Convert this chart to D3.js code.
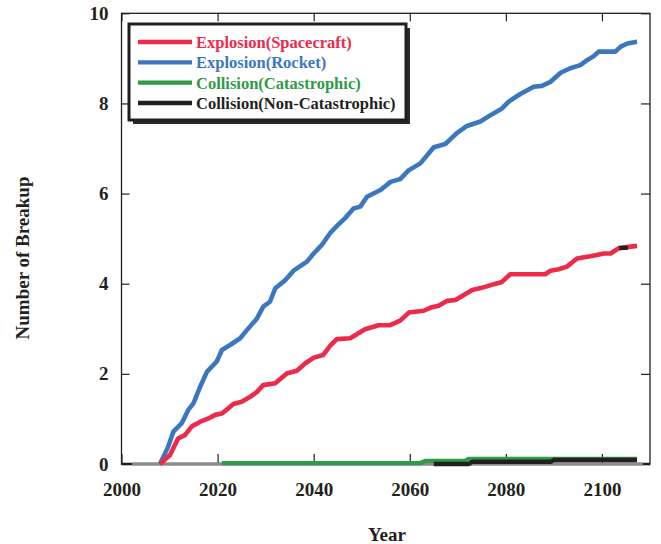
<!DOCTYPE html>
<html>
<head>
<meta charset="utf-8">
<script src="https://cdn.jsdelivr.net/npm/d3@7"></script>
<style>
  html, body { margin: 0; padding: 0; background: #fff; }
  svg text { font-family: "Liberation Serif", "Times New Roman", serif; font-weight: bold; }
</style>
</head>
<body>
<svg id="chart" width="661" height="544"></svg>
<script>
// Cumulative number of breakups per year, by breakup type
const rocketYears = [2008.0, 2009.7, 2010.8, 2012.5, 2013.9, 2015.0, 2016.4, 2017.8, 2019.8, 2020.9,
  2022.6, 2024.7, 2026.1, 2028.2, 2029.5, 2030.9, 2032.0, 2034.1, 2035.8, 2038.6, 2040.0, 2041.7,
  2043.4, 2045.0, 2046.5, 2048.3, 2049.7, 2051.1, 2053.9, 2056.0, 2058.0, 2059.8, 2062.2, 2065.0,
  2067.4, 2069.8, 2071.9, 2074.7, 2076.8, 2079.2, 2080.6, 2083.0, 2085.8, 2087.5, 2089.3, 2091.4,
  2093.4, 2095.5, 2096.9, 2098.3, 2099.3, 2102.8, 2103.9, 2105.3, 2107.3];
const rocketValues = [0, 0.38, 0.72, 0.90, 1.20, 1.35, 1.72, 2.05, 2.27, 2.53,
  2.64, 2.79, 2.97, 3.23, 3.49, 3.60, 3.90, 4.08, 4.29, 4.49, 4.67, 4.86,
  5.12, 5.30, 5.45, 5.67, 5.71, 5.93, 6.08, 6.26, 6.32, 6.52, 6.67, 7.03,
  7.10, 7.34, 7.50, 7.60, 7.74, 7.89, 8.04, 8.21, 8.37, 8.39, 8.48, 8.68,
  8.78, 8.85, 8.96, 9.05, 9.15, 9.15, 9.26, 9.33, 9.37];

const spacecraftYears = [2008.0, 2010.1, 2011.8, 2013.2, 2014.6, 2016.4, 2018.1, 2019.5, 2020.9, 2022.3,
  2023.3, 2025.0, 2026.8, 2028.2, 2029.5, 2032.0, 2034.4, 2036.5, 2038.2, 2040.0, 2042.0, 2043.4,
  2044.8, 2047.6, 2050.7, 2053.5, 2055.9, 2058.0, 2059.8, 2062.9, 2064.6, 2066.0, 2067.8, 2069.5,
  2073.0, 2075.7, 2077.5, 2079.2, 2080.9, 2088.2, 2089.3, 2091.0, 2092.7, 2094.8, 2097.6, 2100.4,
  2101.8, 2103.5, 2107.3];
const spacecraftValues = [0, 0.20, 0.57, 0.64, 0.83, 0.94, 1.01, 1.09, 1.12, 1.24,
  1.33, 1.38, 1.49, 1.60, 1.75, 1.79, 2.01, 2.07, 2.23, 2.36, 2.42, 2.62,
  2.77, 2.79, 2.99, 3.08, 3.08, 3.18, 3.36, 3.40, 3.48, 3.51, 3.62, 3.64,
  3.86, 3.93, 3.99, 4.04, 4.21, 4.21, 4.29, 4.32, 4.38, 4.56, 4.61, 4.67,
  4.67, 4.79, 4.84];

const catastrophicYears = [2020.9, 2062.2, 2063.3, 2071.5, 2072.2, 2107.3];
const catastrophicValues = [0.02, 0.02, 0.07, 0.07, 0.11, 0.11];

const nonCatastrophicYears = [2065.0, 2072.3, 2073.0, 2089.3, 2090.0, 2107.3];
const nonCatastrophicValues = [0.0, 0.0, 0.05, 0.05, 0.09, 0.09];

// short dark stroke sitting on the spacecraft curve near its end
const overlayYears = [2103.6, 2105.4];
const overlayValues = [4.79, 4.80];

// zero reference line
const baselineYears = [2002.2, 2108.5];
const baselineValues = [0, 0];

const xTicks = [2000, 2020, 2040, 2060, 2080, 2100];
const yTicks = [0, 2, 4, 6, 8, 10];

const seriesNames = ["Explosion(Spacecraft)", "Explosion(Rocket)", "Collision(Catastrophic)", "Collision(Non-Catastrophic)"];
const seriesColors = ["#ec2a4a", "#3b77bf", "#2f9b46", "#231f20"];

const svg = d3.select("#chart");
const plotLeft = 121.5, plotRight = 650, plotTop = 13.3, plotBottom = 464;

const x = d3.scaleLinear().domain([2000, 2110]).range([plotLeft, plotRight]);
const y = d3.scaleLinear().domain([0, 10]).range([plotBottom, plotTop]);

const ink = "#231f20";

// plot frame
svg.append("rect")
  .attr("x", plotLeft).attr("y", plotTop)
  .attr("width", plotRight - plotLeft).attr("height", plotBottom - plotTop)
  .attr("fill", "none").attr("stroke", ink).attr("stroke-width", 1.3);
svg.append("line")
  .attr("x1", plotLeft).attr("x2", plotRight).attr("y1", plotBottom).attr("y2", plotBottom)
  .attr("stroke", ink).attr("stroke-width", 2.6);

// axes with inward ticks
const fontSize = 19;
const gx = svg.append("g").attr("transform", `translate(0,${plotBottom})`)
  .call(d3.axisBottom(x).tickValues(xTicks).tickFormat(d3.format("d"))
    .tickSizeInner(-10).tickSizeOuter(0).tickPadding(19));
const gy = svg.append("g").attr("transform", `translate(${plotLeft},0)`)
  .call(d3.axisLeft(y).tickValues(yTicks).tickFormat(d3.format("d"))
    .tickSizeInner(-8).tickSizeOuter(0).tickPadding(13));
const gt = svg.append("g").attr("transform", `translate(0,${plotTop})`)
  .call(d3.axisTop(x).tickValues(xTicks).tickFormat("")
    .tickSizeInner(-8).tickSizeOuter(0));
const gr = svg.append("g").attr("transform", `translate(${plotRight},0)`)
  .call(d3.axisRight(y).tickValues(yTicks).tickFormat("")
    .tickSizeInner(-9).tickSizeOuter(0));

[gx, gy, gt, gr].forEach(g => {
  g.select(".domain").remove();
  g.selectAll(".tick line").attr("stroke", ink).attr("stroke-width", 1.2);
  g.selectAll(".tick text")
    .attr("font-size", fontSize)
    .attr("font-family", "Liberation Serif, serif")
    .attr("font-weight", "bold")
    .attr("fill", ink);
});

// axis titles
svg.append("text")
  .attr("x", 387).attr("y", 541)
  .attr("text-anchor", "middle")
  .attr("font-size", fontSize).attr("fill", ink)
  .text("Year");
svg.append("text")
  .attr("transform", "translate(29,258) rotate(-90)")
  .attr("text-anchor", "middle")
  .attr("font-size", fontSize).attr("fill", ink)
  .text("Number of Breakup");

const line = d3.line().x(d => x(d[0])).y(d => y(d[1]));
const zip = (a, b) => a.map((v, i) => [v, b[i]]);

function drawSeries(years, values, color, width) {
  svg.append("path")
    .datum(zip(years, values))
    .attr("d", line)
    .attr("fill", "none")
    .attr("stroke", color)
    .attr("stroke-width", width)
    .attr("stroke-linejoin", "round")
    .attr("stroke-linecap", "butt");
}

drawSeries(baselineYears, baselineValues, "#8c8c8c", 3);
drawSeries(rocketYears, rocketValues, seriesColors[1], 4.6);
drawSeries(spacecraftYears, spacecraftValues, seriesColors[0], 4.6);
drawSeries(catastrophicYears, catastrophicValues, seriesColors[2], 4.4);
drawSeries(nonCatastrophicYears, nonCatastrophicValues, seriesColors[3], 4.4);
drawSeries(overlayYears, overlayValues, seriesColors[3], 4.4);

// legend box with drop shadow
const lg = svg.append("g");
const lx = 129, ly = 24, lw = 277, lh = 96;
lg.append("rect").attr("x", lx + 4).attr("y", ly + 4).attr("width", lw).attr("height", lh)
  .attr("fill", "#2a2a2a");
lg.append("rect").attr("x", lx).attr("y", ly).attr("width", lw).attr("height", lh)
  .attr("fill", "#fff").attr("stroke", ink).attr("stroke-width", 3);

const rowY = d3.scalePoint().domain(seriesNames).range([42, 103]);
seriesNames.forEach((name, i) => {
  const ry = rowY(name);
  lg.append("line")
    .attr("x1", 138).attr("x2", 192).attr("y1", ry).attr("y2", ry)
    .attr("stroke", seriesColors[i]).attr("stroke-width", 4.4);
  lg.append("text")
    .attr("x", 196).attr("y", ry + 6)
    .attr("font-size", 16.5)
    .attr("fill", seriesColors[i])
    .text(name);
});
</script>
</body>
</html>
